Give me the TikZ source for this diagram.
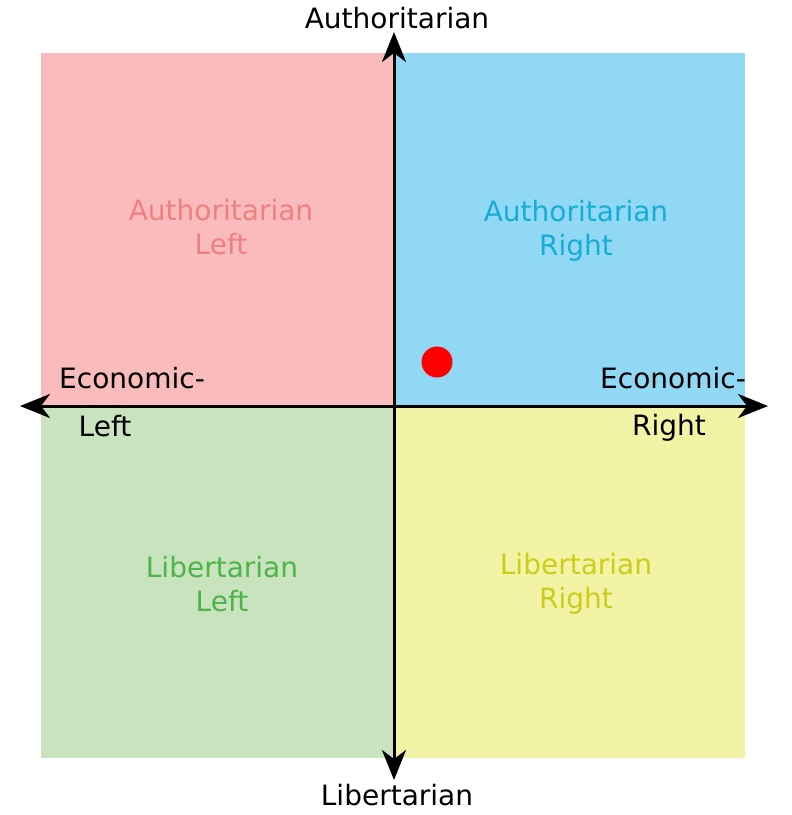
\documentclass[tikz,border=0pt]{standalone}
\usepackage{fontspec}
\setmainfont{DejaVu Sans}
\usetikzlibrary{arrows.meta}

\definecolor{alfill}{RGB}{249,187,187}
\definecolor{arfill}{RGB}{145,216,244}
\definecolor{llfill}{RGB}{200,227,190}
\definecolor{lrfill}{RGB}{243,243,165}
\definecolor{altext}{RGB}{240,128,128}
\definecolor{artext}{RGB}{22,172,216}
\definecolor{lltext}{RGB}{76,180,72}
\definecolor{lrtext}{RGB}{204,204,26}

\begin{document}
\begin{tikzpicture}[
  x=1pt,y=-1pt,
  quad/.style={minimum width=352pt,minimum height=352pt,inner sep=0pt},
  quadlabel/.style={align=center,inner sep=0pt,font=\fontsize{28}{34}\selectfont},
  axlabel/.style={font=\fontsize{28}{34}\selectfont,inner sep=0pt},
  axis/.style={line width=3pt,{Stealth[length=30pt,width=24pt,inset=9pt]}-{Stealth[length=30pt,width=24pt,inset=9pt]}},
]
\useasboundingbox (0,0) rectangle (792,815);

% quadrants
\node[quad,fill=alfill] (al) at (217,229) {};
\node[quad,fill=arfill] (ar) at (569,229) {};
\node[quad,fill=llfill] (ll) at (217,582) {};
\node[quad,fill=lrfill] (lr) at (569,582) {};
\node[quadlabel,text=altext] (altxt) at (221,227.5) {Authoritarian\\Left};
\node[quadlabel,text=artext] (artxt) at (576,230.5) {Authoritarian\\Right};
\node[quadlabel,text=lltext] (lltxt) at (222,584) {Libertarian\\Left};
\node[quadlabel,text=lrtext] (lrtxt) at (576,584) {Libertarian\\Right};

% axes
\coordinate (north) at (394,32);
\coordinate (south) at (394,780);
\coordinate (west) at (20,406);
\coordinate (east) at (768,406);
\draw[axis] (west) -- (east);
\draw[axis] (south) -- (north);

% axis labels
\node[axlabel] (auth) at (397,18) {Authoritarian};
\node[axlabel] (lib) at (397,795) {Libertarian};
\node[axlabel] (ecol) at (132,378) {Economic-};
\node[axlabel] (left) at (105,426) {Left};
\node[axlabel] (ecor) at (673,378) {Economic-};
\node[axlabel] (right) at (669,428) {Right};

% position
\node[circle,fill=red,minimum size=31pt,inner sep=0pt] (pos) at (437,362) {};
\end{tikzpicture}
\end{document}
